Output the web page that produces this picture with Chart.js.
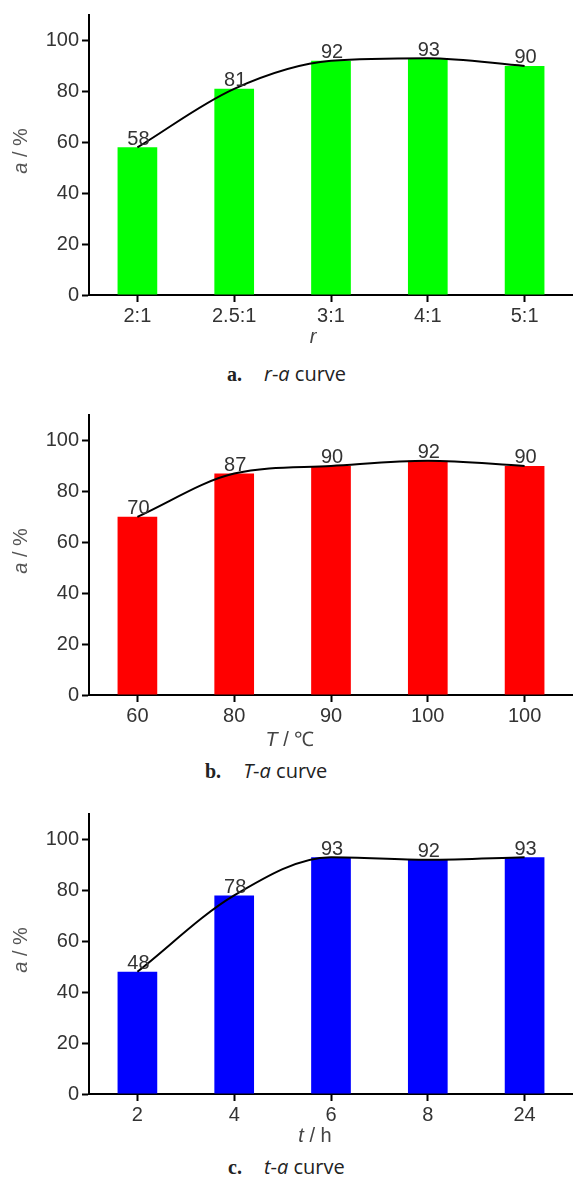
<!DOCTYPE html>
<html>
<head>
<meta charset="utf-8">
<script src="https://cdn.jsdelivr.net/npm/chart.js@4"></script>
<style>
  body { margin: 0; background: #fff; width: 573px; height: 1181px; position: relative; overflow: hidden; }
  canvas { position: absolute; left: 0; }
  .cap { position: absolute; font: 20px "Open Sans", sans-serif; color: #222; line-height: 24px; white-space: nowrap; }
  .cap b { font: bold 20px "Liberation Serif", serif; margin-right: 22px; }
  .cap i { font-style: italic; }
</style>
</head>
<body>
<canvas id="chartA" width="573" height="350" style="top:0"></canvas>
<canvas id="chartB" width="573" height="350" style="top:400px"></canvas>
<canvas id="chartC" width="573" height="350" style="top:799px"></canvas>
<div class="cap" style="left:227px;top:362px"><b>a.</b><i>r</i>-<i>a</i> curve</div>
<div class="cap" style="left:205px;top:759px"><b>b.</b><i>T</i>-<i>a</i> curve</div>
<div class="cap" style="left:228px;top:1155px"><b>c.</b><i>t</i>-<i>a</i> curve</div>
<script>
// chart data
const ratioLabels = ['2:1', '2.5:1', '3:1', '4:1', '5:1'];
const ratioValues = [58, 81, 92, 93, 90];
const tempLabels = ['60', '80', '90', '100', '100'];
const tempValues = [70, 87, 90, 92, 90];
const timeLabels = ['2', '4', '6', '8', '24'];
const timeValues = [48, 78, 93, 92, 93];
const yMax = 110;
const yStep = 10;

const tickFont = { family: '"Liberation Sans Narrow", "Liberation Sans", Arial, sans-serif', size: 20 };

// draws rich text runs centred on x
function drawRuns(ctx, runs, x, y) {
    let total = 0;
    runs.forEach(r => { ctx.font = r.font; total += ctx.measureText(r.text).width; });
    let cx = x - total / 2;
    runs.forEach(r => {
        ctx.font = r.font;
        ctx.fillText(r.text, cx, y);
        cx += ctx.measureText(r.text).width;
    });
}

const annotate = {
    id: 'annotate',
    afterDatasetsDraw(chart, args, opts) {
        const ctx = chart.ctx;
        ctx.save();
        // value labels over bars
        const meta = chart.getDatasetMeta(0);
        ctx.fillStyle = '#333';
        ctx.font = '20px ' + tickFont.family;
        ctx.textAlign = 'center';
        ctx.textBaseline = 'bottom';
        meta.data.forEach((bar, i) => {
            ctx.fillText(chart.data.datasets[0].data[i], bar.x + 1, bar.y + 2);
        });
        // x title
        ctx.textAlign = 'left';
        ctx.textBaseline = 'middle';
        ctx.fillStyle = '#444';
        drawRuns(ctx, opts.xTitle, opts.xTitleX, opts.xTitleY);
        // y title
        ctx.fillStyle = '#555';
        ctx.translate(21, 151);
        ctx.rotate(-Math.PI / 2);
        drawRuns(ctx, [
            { text: 'a', font: 'italic 20px "Liberation Sans", Arial, sans-serif' },
            { text: ' / %', font: '20px "Liberation Sans", Arial, sans-serif' }
        ], 0, 0);
        ctx.restore();
    }
};

function makeChart(id, labels, values, color, xTitle, xTitleX, xTitleY) {
    return new Chart(document.getElementById(id), {
        type: 'bar',
        data: {
            labels: labels,
            datasets: [{
                type: 'bar',
                data: values,
                backgroundColor: color,
                barPercentage: 0.41,
                categoryPercentage: 1,
                order: 1
            }, {
                type: 'line',
                data: values,
                borderColor: '#000',
                borderWidth: 2,
                pointRadius: 0,
                cubicInterpolationMode: 'monotone',
                order: 0
            }]
        },
        options: {
            responsive: false,
            animation: false,
            layout: { padding: { top: 13, left: 0, right: 0, bottom: 0 } },
            plugins: {
                legend: { display: false },
                tooltip: { enabled: false },
                annotate: { xTitle: xTitle, xTitleX: xTitleX, xTitleY: xTitleY }
            },
            scales: {
                x: {
                    offset: true,
                    grid: { offset: false, drawOnChartArea: false, tickLength: 7, tickWidth: 2, tickColor: '#000' },
                    border: { color: '#000', width: 2 },
                    ticks: { font: tickFont, color: '#333', padding: 2, maxRotation: 0 },
                    afterFit: s => { s.height = 55; }
                },
                y: {
                    min: 0,
                    max: yMax,
                    ticks: {
                        stepSize: yStep,
                        font: tickFont,
                        color: '#333',
                        padding: 3,
                        callback: v => (v % 20 === 0 && v <= 100) ? v : ''
                    },
                    grid: {
                        drawOnChartArea: false,
                        tickLength: 7,
                        tickWidth: 2,
                        tickColor: c => (c.tick && c.tick.value === yMax) ? 'rgba(0,0,0,0)' : '#000'
                    },
                    border: { color: '#000', width: 2 },
                    afterFit: s => { s.width = 89; }
                }
            }
        },
        plugins: [annotate]
    });
}

const it = 'italic 20px "Liberation Sans", Arial, sans-serif';
const rg = '20px "Liberation Sans", Arial, sans-serif';

makeChart('chartA', ratioLabels, ratioValues, '#00ff00',
    [{ text: 'r', font: it }], 313, 337);
makeChart('chartB', tempLabels, tempValues, '#ff0000',
    [{ text: 'T', font: it }, { text: ' / ℃', font: rg }], 290, 340);
makeChart('chartC', timeLabels, timeValues, '#0000ff',
    [{ text: 't', font: it }, { text: ' / h', font: rg }], 315, 337);
</script>
</body>
</html>
